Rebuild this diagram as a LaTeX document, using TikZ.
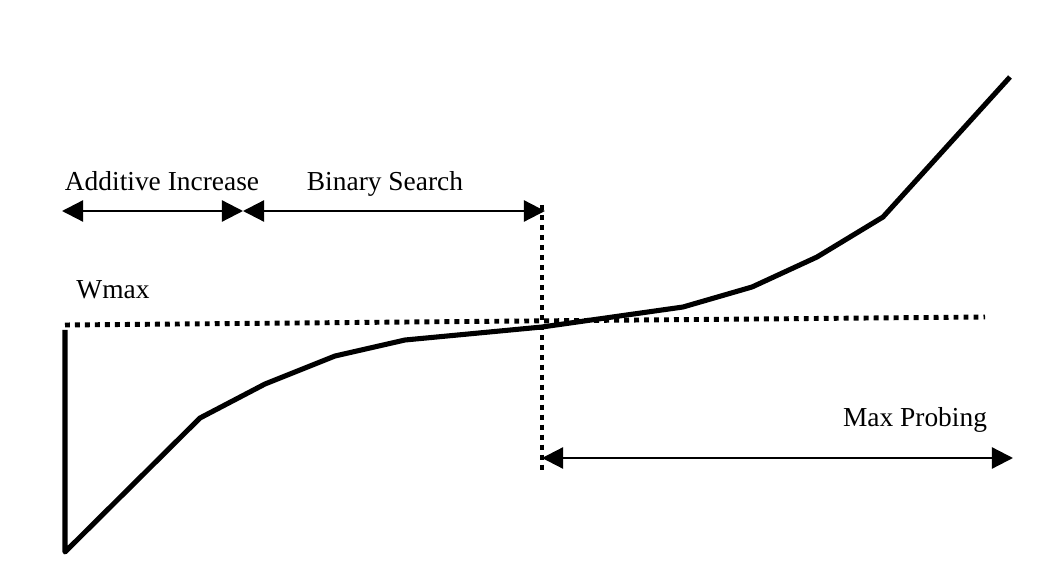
\documentclass[tikz,border=0pt]{standalone}
\usepackage{fontspec}
\setmainfont{Liberation Serif}
\usetikzlibrary{positioning,arrows.meta}

\tikzset{
  lbl/.style={font=\fontsize{19.5}{23}\selectfont, inner sep=0pt, anchor=base},
  span/.style={line width=1.6pt, {Triangle[length=15pt,width=15pt]}-{Triangle[length=15pt,width=15pt]}},
  dots/.style={line width=3.5pt, dash pattern=on 3.5pt off 3.6pt},
  win/.style={line width=3.6pt, line join=round}
}

\begin{document}
\begin{tikzpicture}[x=0.025cm,y=-0.025cm]
\useasboundingbox (0,0) rectangle (1060,583);
%
\coordinate (w0) at (65,330);
\coordinate (w1) at (65,552);
\coordinate (w2) at (200,418);
\coordinate (w3) at (265,384);
\coordinate (w4) at (335,356);
\coordinate (w5) at (405,340);
\coordinate (w6) at (542,327);
\coordinate (w7) at (683,307);
\coordinate (w8) at (752,287);
\coordinate (w9) at (817,257);
\coordinate (w10) at (883,217);
\coordinate (w11) at (1010,77);
%
\coordinate (ml) at (65,325);
\coordinate (mr) at (985,317);
\coordinate (vt) at (542,205);
\coordinate (vb) at (542,470);
%
\coordinate (a0) at (62,211);
\coordinate (a1) at (243,211);
\coordinate (a2) at (545,211);
\coordinate (p0) at (542,458);
\coordinate (p1) at (1013,458);
%
\draw[win] (w0) -- (w1) -- (w2) -- (w3) -- (w4) -- (w5) -- (w6) -- (w7) -- (w8) -- (w9) -- (w10) -- (w11);
\draw[dots] (ml) -- (mr);
\draw[dots] (vt) -- (vb);
%
\draw[span] (a0) -- (a1);
\draw[span] (a1) -- (a2);
\draw[span] (p0) -- (p1);
%
\node[lbl] (ai) at (162,191) {Additive Increase};
\node[lbl] (bs) at (385,191) {Binary Search};
\node[lbl] (wmax) at (113,299) {Wmax};
\node[lbl] (mp) at (915,427) {Max Probing};
\end{tikzpicture}
\end{document}
